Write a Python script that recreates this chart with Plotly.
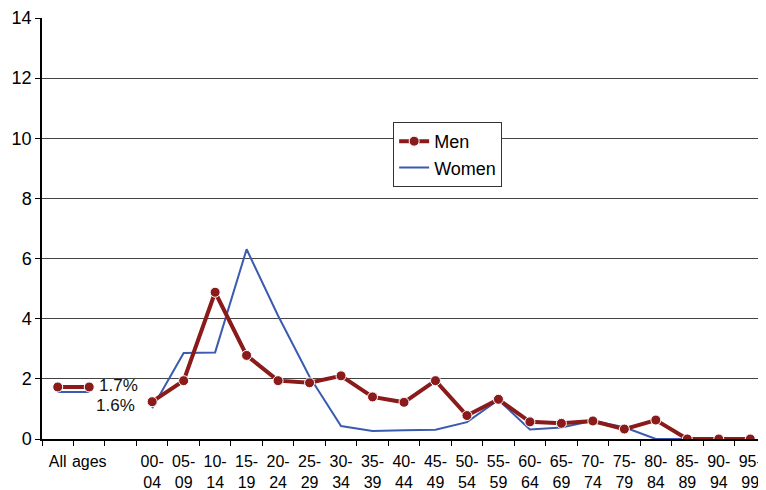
import plotly.graph_objects as go

# age groups (first three slots: "All ages" label + an empty gap)
age_groups = ["00-04", "05-09", "10-14", "15-19", "20-24", "25-29", "30-34",
              "35-39", "40-44", "45-49", "50-54", "55-59", "60-64", "65-69",
              "70-74", "75-79", "80-84", "85-89", "90-94", "95-99"]
men = [1.24, 1.94, 4.88, 2.78, 1.94, 1.87, 2.10, 1.40, 1.22, 1.94,
       0.78, 1.32, 0.57, 0.52, 0.60, 0.33, 0.63, 0, 0, 0]
women = [1.02, 2.86, 2.88, 6.31, 4.10, 2.07, 0.43, 0.27, 0.29, 0.31,
         0.56, 1.30, 0.32, 0.38, 0.61, 0.39, 0, 0, 0, 0]
all_ages_men = 1.73
all_ages_women = 1.56

red = "#8B1A1A"
blue = "#3A5BB0"

cats = ["All", "ages", " "] + [g.replace("-", "-<br>") for g in age_groups]
xs = cats[3:]

fig = go.Figure()
fig.add_trace(go.Scatter(x=["All", "ages"], y=[all_ages_women] * 2, mode="lines",
                         line=dict(color=blue, width=2), showlegend=False))
fig.add_trace(go.Scatter(x=["All", "ages"], y=[all_ages_men] * 2, mode="lines+markers",
                         line=dict(color=red, width=4),
                         marker=dict(size=10, color=red, line=dict(color="white", width=1)),
                         showlegend=False))
fig.add_trace(go.Scatter(x=xs, y=women, mode="lines", name="Women", legendrank=2,
                         line=dict(color=blue, width=2)))
fig.add_trace(go.Scatter(x=xs, y=men, mode="lines+markers", name="Men", legendrank=1,
                         line=dict(color=red, width=4),
                         marker=dict(size=10, color=red, line=dict(color="white", width=1))))

fig.add_annotation(x="ages", y=all_ages_men, text=f"{all_ages_men:.1f}%", showarrow=False,
                   xanchor="left", xshift=8, yshift=1, font=dict(size=17, color="#111"))
fig.add_annotation(x="ages", y=all_ages_women, text=f"{all_ages_women:.1f}%", showarrow=False,
                   xanchor="left", xshift=5, yshift=-13, font=dict(size=17, color="#111"))

# page body adds an 8px margin, so the figure is 8px smaller on each side
fig.update_layout(
    width=758, height=482,
    margin=dict(l=34, r=0, t=10, b=51),
    plot_bgcolor="white", paper_bgcolor="white",
    font=dict(family="Liberation Sans, Arial", size=17, color="#000"),
    legend=dict(x=0.485, y=0.753, xanchor="left", yanchor="top",
                bordercolor="#333", borderwidth=1, bgcolor="white",
                font=dict(size=18), itemwidth=30, tracegroupgap=0),
)
fig.update_xaxes(type="category", categoryorder="array", categoryarray=cats,
                 range=[-0.5, len(cats) - 0.5], automargin=False,
                 tickson="boundaries", ticks="outside", ticklen=5, tickcolor="black",
                 showline=True, linecolor="black", linewidth=1.5, showgrid=False,
                 tickangle=0, tickfont=dict(size=16), ticklabelstandoff=7)
fig.update_yaxes(range=[0, 14], dtick=2, ticks="outside", ticklen=5, tickcolor="black",
                 automargin=False, tickfont=dict(size=18),
                 showline=True, linecolor="black", linewidth=1.5,
                 showgrid=True, gridcolor="#444", gridwidth=1, zeroline=False)

fig.write_html("out.html")
